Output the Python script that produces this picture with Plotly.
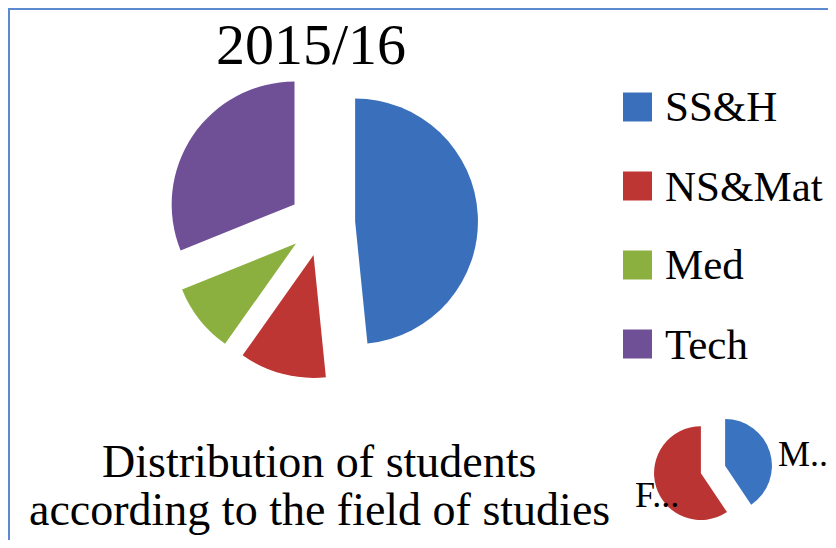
import plotly.graph_objects as go

# ---- data ----
fields = ["SS&H", "NS&Mat", "Med", "Tech"]
field_share = [48.4, 11.4, 9.1, 31.1]
field_colors = ["#3a70bb", "#bd3634", "#8cb040", "#6f5096"]

genders = ["M..", "F..."]
gender_share = [40.6, 59.4]
gender_colors = ["#3a73bf", "#b93432"]

title_text = "2015/16"
caption_lines = ["Distribution of students", "according to the field of studies"]

# page is 836x548; the html body keeps its default 8px margin,
# so the figure itself is 820x532 and sits 8px in from the top-left.
PAGE_OFF = 8
W, H = 820, 532
FONT = "Liberation Serif"


def px_x(v):
    return (v - PAGE_OFF) / W


def px_y(v):
    return 1 - (v - PAGE_OFF) / H


fig = go.Figure()

# main pie
fig.add_trace(go.Pie(
    labels=fields, values=field_share, sort=False, direction="clockwise",
    rotation=0, pull=0.27, marker=dict(colors=field_colors, line=dict(width=0)),
    textinfo="none", hoverinfo="label+percent", showlegend=False,
    domain=dict(x=[px_x(166), px_x(478)], y=[px_y(379), px_y(67)]),
))

# small gender pie
fig.add_trace(go.Pie(
    labels=genders, values=gender_share, sort=False, direction="clockwise",
    rotation=0, pull=0.27, marker=dict(colors=gender_colors, line=dict(width=0)),
    textinfo="none", hoverinfo="label+percent", showlegend=False,
    domain=dict(x=[px_x(653), px_x(773)], y=[px_y(529), px_y(410)]),
))

# chart frame (top and left edges visible in the reference)
shapes = [
    dict(type="line", xref="paper", yref="paper", x0=0, x1=1, y0=px_y(9), y1=px_y(9),
         line=dict(color="#5b8ad0", width=2)),
    dict(type="line", xref="paper", yref="paper", x0=px_x(9), x1=px_x(9), y0=0, y1=px_y(9),
         line=dict(color="#5b8ad0", width=2)),
]

annotations = [
    dict(text=title_text, x=px_x(311), y=px_y(44), xref="paper", yref="paper",
         xanchor="center", yanchor="middle", showarrow=False,
         font=dict(family=FONT, size=58, color="black")),
]
cap_y = [461, 509]
for line, yy in zip(caption_lines, cap_y):
    annotations.append(dict(text=line, x=px_x(319), y=px_y(yy), xref="paper", yref="paper",
                            xanchor="center", yanchor="middle", showarrow=False,
                            font=dict(family=FONT, size=46, color="black")))

# truncated category labels of the small pie
small_lab_pos = [(776, 454, "left"), (681, 495, "right")]
for name, (lx, ly, anc) in zip(genders, small_lab_pos):
    annotations.append(dict(text=name, x=px_x(lx), y=px_y(ly), xref="paper", yref="paper",
                            xanchor=anc, yanchor="middle", showarrow=False,
                            font=dict(family=FONT, size=36, color="black")))

# legend (drawn manually to get large square keys)
leg_top, leg_step, sq = 107, 79, 29
for i, (name, col) in enumerate(zip(fields, field_colors)):
    yc = leg_top + i * leg_step
    shapes.append(dict(type="rect", xref="paper", yref="paper",
                       x0=px_x(623), x1=px_x(623 + sq), y0=px_y(yc + sq / 2), y1=px_y(yc - sq / 2),
                       line=dict(width=0), fillcolor=col))
    annotations.append(dict(text=name, x=px_x(663), y=px_y(yc), xref="paper", yref="paper",
                            xanchor="left", yanchor="middle", showarrow=False,
                            font=dict(family=FONT, size=43, color="black")))

fig.update_layout(
    width=W, height=H, margin=dict(l=0, r=0, t=0, b=0),
    paper_bgcolor="white", plot_bgcolor="white", showlegend=False,
    shapes=shapes, annotations=annotations,
)

fig.write_html("out.html")
